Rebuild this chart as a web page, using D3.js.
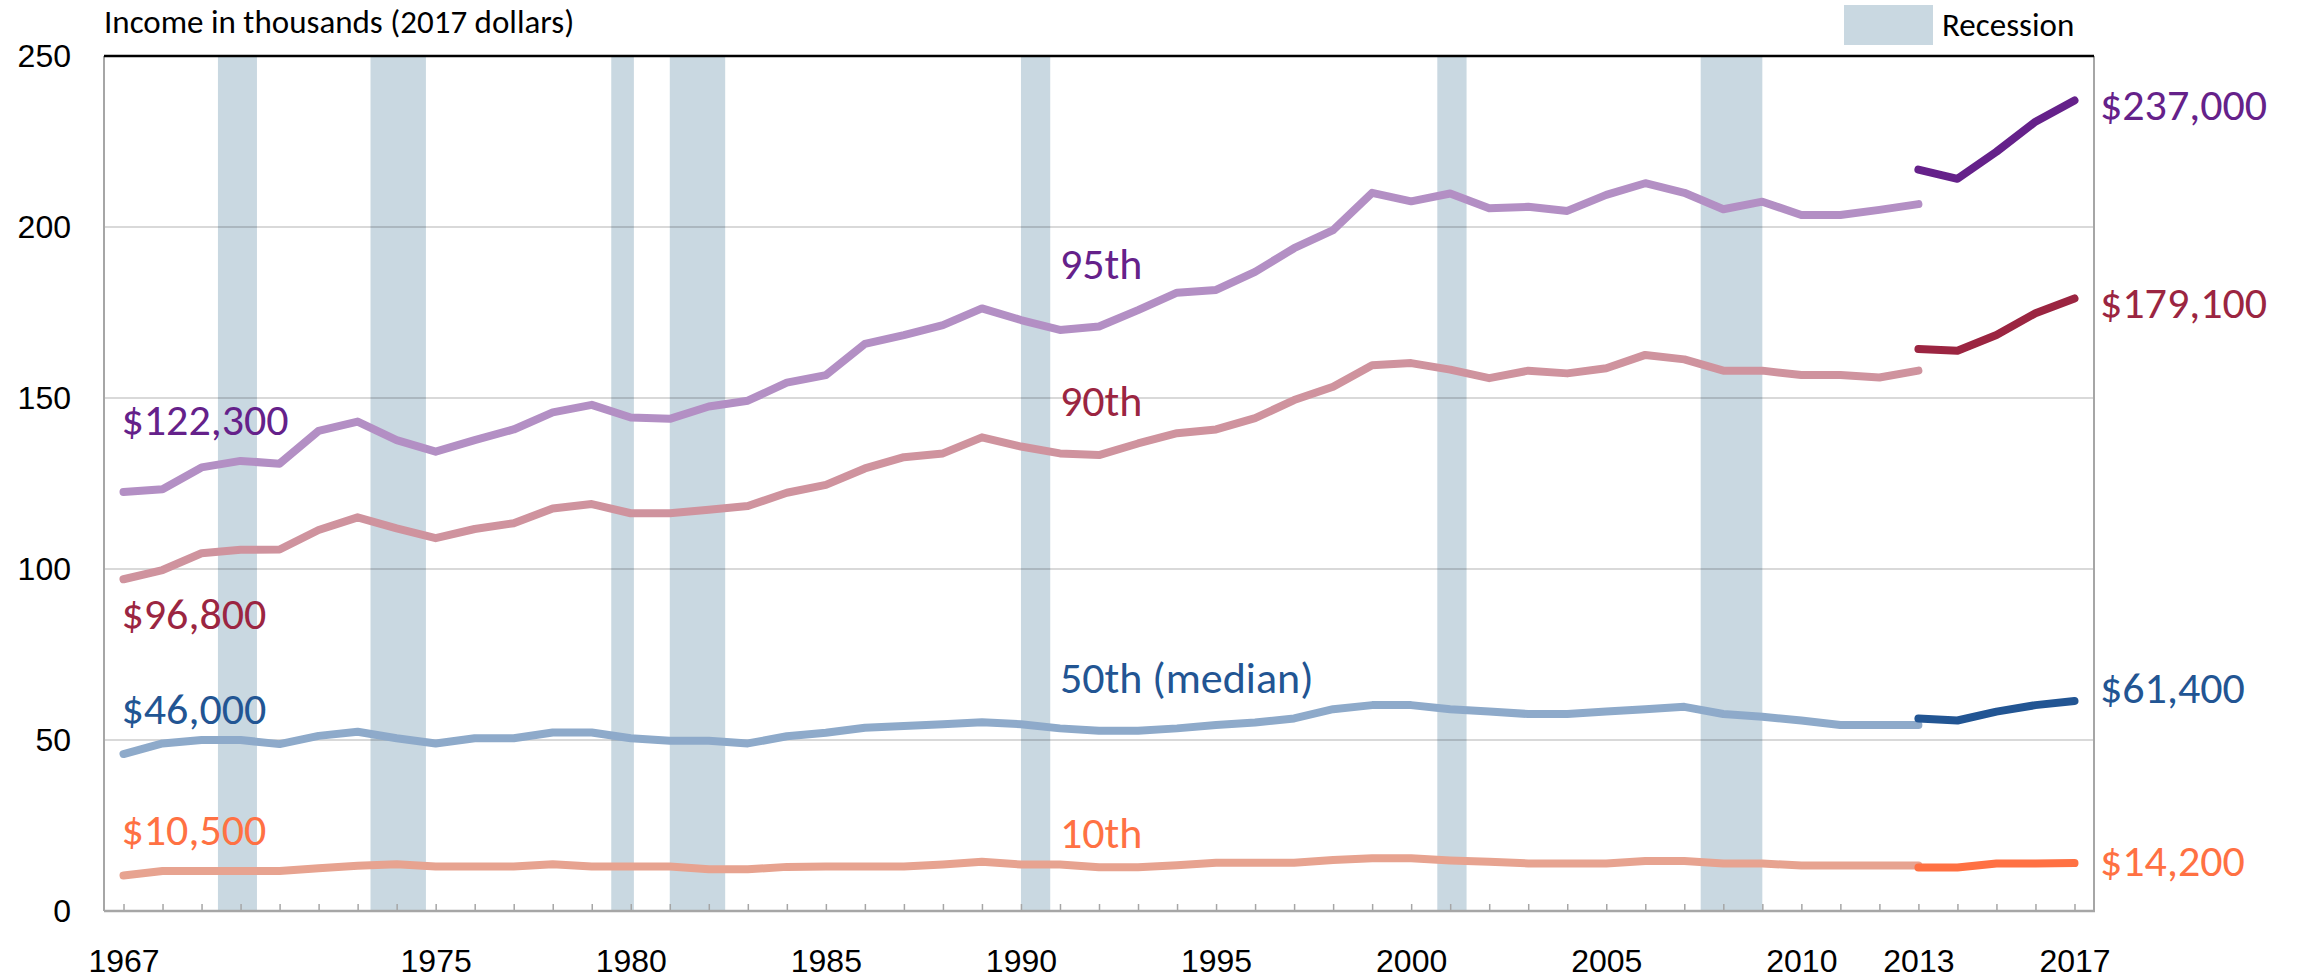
<!DOCTYPE html>
<html>
<head>
<meta charset="utf-8">
<script src="https://cdn.jsdelivr.net/npm/d3@7"></script>
<style>
  body { margin: 0; background: #fff; }
  svg { font-family: Carlito, Lato, sans-serif; }
  .axis text { fill: #000; }
</style>
</head>
<body>
<div id="chart"></div>
<script>
// --- data (income in thousands of 2017 dollars) ---
const years = d3.range(1967, 2014);          // original series 1967-2013
const newYears = [2013, 2014, 2015, 2016, 2017]; // redesigned series

const p95 = [122.5, 123.3, 129.7, 131.6, 130.8, 140.4, 143.1, 137.7, 134.3, 137.7,
  140.8, 145.8, 148.0, 144.3, 143.9, 147.5, 149.2, 154.5, 156.7, 165.8,
  168.4, 171.3, 176.2, 172.8, 169.9, 170.9, 175.7, 180.8, 181.6, 186.9,
  193.8, 199.1, 210.0, 207.5, 209.8, 205.5, 205.9, 204.7, 209.4, 212.8,
  210.0, 205.2, 207.4, 203.5, 203.5, 205.0, 206.7];
const p95New = [216.8, 214.1, 222.0, 230.8, 237.0];

const p90 = [97.0, 99.7, 104.6, 105.6, 105.7, 111.4, 115.1, 111.9, 109.0, 111.7,
  113.4, 117.7, 119.0, 116.3, 116.3, 117.3, 118.4, 122.3, 124.6, 129.4,
  132.7, 133.8, 138.5, 135.8, 133.8, 133.3, 136.7, 139.7, 140.8, 144.1,
  149.4, 153.3, 159.6, 160.2, 158.3, 155.8, 158.0, 157.2, 158.7, 162.6,
  161.3, 158.0, 158.0, 156.7, 156.7, 156.0, 158.0];
const p90New = [164.3, 163.8, 168.4, 174.8, 179.1];

const p50 = [45.9, 49.0, 50.0, 50.0, 48.8, 51.2, 52.4, 50.5, 49.0, 50.5,
  50.5, 52.2, 52.2, 50.5, 49.8, 49.8, 49.0, 51.1, 52.1, 53.6,
  54.1, 54.6, 55.2, 54.6, 53.4, 52.7, 52.7, 53.4, 54.4, 55.1,
  56.3, 59.0, 60.2, 60.2, 59.0, 58.3, 57.6, 57.6, 58.3, 59.0,
  59.7, 57.6, 56.8, 55.7, 54.4, 54.4, 54.4];
const p50New = [56.3, 55.7, 58.3, 60.2, 61.4];

const p10 = [10.4, 11.7, 11.7, 11.7, 11.7, 12.5, 13.2, 13.7, 13.0, 13.0,
  13.0, 13.7, 13.0, 13.0, 13.0, 12.2, 12.2, 12.9, 13.0, 13.0,
  13.0, 13.6, 14.4, 13.6, 13.6, 12.8, 12.8, 13.4, 14.1, 14.1,
  14.1, 14.9, 15.4, 15.4, 14.8, 14.4, 13.9, 13.9, 13.9, 14.6,
  14.6, 13.9, 13.9, 13.3, 13.3, 13.3, 13.3];
const p10New = [12.7, 12.7, 13.9, 13.9, 14.0];

// recessions as calendar dates (peak, trough)
const recessionStart = [1969.92, 1973.83, 1980.0, 1981.5, 1990.5, 2001.17, 2007.92];
const recessionEnd   = [1970.92, 1975.25, 1980.58, 1982.92, 1991.25, 2001.92, 2009.5];

const yTicks = [0, 50, 100, 150, 200, 250];
const xTickLabels = [1967, 1975, 1980, 1985, 1990, 1995, 2000, 2005, 2010, 2013, 2017];

const startLabels = ["$122,300", "$96,800", "$46,000", "$10,500"];
const endLabels = ["$237,000", "$179,100", "$61,400", "$14,200"];
const seriesNames = ["95th", "90th", "50th (median)", "10th"];

// --- layout ---
const width = 2321, height = 980;
const margin = {top: 56, right: 227, bottom: 69, left: 104};
const w = width - margin.left - margin.right;
const h = height - margin.top - margin.bottom;

const series = [
  {old: p95, recent: p95New, light: "#b38fc4", dark: "#65218a", text: "#65218a",
   startDy: -57, endDy: 20, midY: 279},
  {old: p90, recent: p90New, light: "#cf939e", dark: "#9b2541", text: "#9b2541",
   startDy: 50, endDy: 20, midY: 416},
  {old: p50, recent: p50New, light: "#8eaaca", dark: "#225593", text: "#225593",
   startDy: -30, endDy: 2, midY: 693},
  {old: p10, recent: p10New, light: "#e7a390", dark: "#ff7143", text: "#ff7143",
   startDy: -30, endDy: 13, midY: 848}
];

const svg = d3.select("#chart").append("svg")
  .attr("width", width)
  .attr("height", height);

const chart = svg.append("g")
  .attr("transform", `translate(${margin.left}, ${margin.top})`);

// calendar time for recessions, annual values sit at mid-year
const x = d3.scaleLinear().domain([1967, 2018]).range([0, w]);
const xYear = d3.scaleLinear().domain([1966.5, 2017.5]).range([0, w]);
const y = d3.scaleLinear().domain([0, 250]).range([h, 0]);

// recession bands
chart.selectAll(".recession")
  .data(recessionStart)
  .enter().append("rect")
  .attr("class", "recession")
  .attr("x", d => x(d))
  .attr("width", (d, i) => x(recessionEnd[i]) - x(d))
  .attr("y", 0)
  .attr("height", h)
  .attr("fill", "#c9d8e1");

// gridlines
chart.selectAll(".grid")
  .data(yTicks.filter(d => d > 0 && d < 250))
  .enter().append("line")
  .attr("class", "grid")
  .attr("x1", 0).attr("x2", w)
  .attr("y1", d => y(d)).attr("y2", d => y(d))
  .attr("stroke", "#000")
  .attr("stroke-opacity", 0.15)
  .attr("stroke-width", 2);

// frame
chart.append("line")
  .attr("x1", 0).attr("x2", 0).attr("y1", 0).attr("y2", h)
  .attr("stroke", "#a6a6a6").attr("stroke-width", 2);
chart.append("line")
  .attr("x1", w).attr("x2", w).attr("y1", 0).attr("y2", h)
  .attr("stroke", "#a6a6a6").attr("stroke-width", 2);
chart.append("line")
  .attr("x1", 0).attr("x2", w).attr("y1", y(250)).attr("y2", y(250))
  .attr("stroke", "#000").attr("stroke-width", 2.5);

// x axis: a tick every year, labels on selected years
const allYears = d3.range(1967, 2018);
const xAxis = d3.axisBottom(xYear)
  .tickValues(allYears)
  .tickSizeInner(-7)
  .tickSizeOuter(0)
  .tickPadding(38)
  .tickFormat(d => xTickLabels.includes(d) ? String(d) : "");

const gx = chart.append("g")
  .attr("class", "axis axis--x")
  .attr("transform", `translate(0, ${h})`)
  .call(xAxis);
gx.select(".domain").remove();
gx.selectAll(".tick line").attr("stroke", "#a6a6a6").attr("stroke-width", 1.5);
gx.selectAll(".tick text").style("font-size", "32px");
gx.append("line")
  .attr("x1", 0).attr("x2", w + 1)
  .attr("stroke", "#a6a6a6").attr("stroke-width", 2.5);

// y axis
const gy = chart.append("g")
  .attr("class", "axis axis--y")
  .call(d3.axisLeft(y).tickValues(yTicks).tickSize(0).tickPadding(33));
gy.select(".domain").remove();
gy.selectAll(".tick text").style("font-size", "32px");

// lines
const line = d3.line()
  .x(d => xYear(d[0]))
  .y(d => y(d[1]));

series.forEach(s => {
  chart.append("path")
    .datum(years.map((yr, i) => [yr, s.old[i]]))
    .attr("fill", "none")
    .attr("stroke", s.light)
    .attr("stroke-width", 8)
    .attr("stroke-linejoin", "round")
    .attr("stroke-linecap", "round")
    .attr("d", line);
});

series.forEach(s => {
  chart.append("path")
    .datum(newYears.map((yr, i) => [yr, s.recent[i]]))
    .attr("fill", "none")
    .attr("stroke", s.dark)
    .attr("stroke-width", 8)
    .attr("stroke-linejoin", "round")
    .attr("stroke-linecap", "round")
    .attr("d", line);
});

// labels
series.forEach((s, i) => {
  chart.append("text")
    .attr("x", xYear(1967) - 2)
    .attr("y", y(s.old[0]) + s.startDy)
    .attr("fill", s.text)
    .style("font-size", "44px")
    .text(startLabels[i]);

  chart.append("text")
    .attr("x", w + 6)
    .attr("y", y(s.recent[s.recent.length - 1]) + s.endDy)
    .attr("fill", s.text)
    .style("font-size", "44px")
    .text(endLabels[i]);

  chart.append("text")
    .attr("x", xYear(1991))
    .attr("y", s.midY - margin.top)
    .attr("fill", s.text)
    .style("font-size", "44px")
    .text(seriesNames[i]);
});

// title
svg.append("text")
  .attr("x", margin.left)
  .attr("y", 33)
  .style("font-size", "33px")
  .attr("fill", "#000")
  .text("Income in thousands (2017 dollars)");

// legend
const legend = svg.append("g")
  .attr("transform", "translate(1844, 5)");
legend.append("rect")
  .attr("width", 89)
  .attr("height", 40)
  .attr("fill", "#c9d8e1");
legend.append("text")
  .attr("x", 98)
  .attr("y", 31)
  .style("font-size", "33px")
  .attr("fill", "#000")
  .text("Recession");
</script>
</body>
</html>
